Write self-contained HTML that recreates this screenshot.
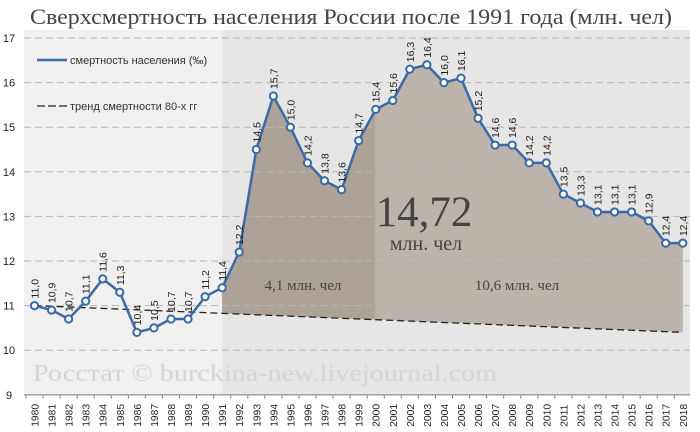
<!DOCTYPE html>
<html><head><meta charset="utf-8"><style>
body{margin:0;background:#fff;}
svg{display:block;font-family:"Liberation Sans",sans-serif;}
</style></head><body>
<svg id="c" width="700" height="432" xmlns="http://www.w3.org/2000/svg"></svg>
<script>
const d=[11.0,10.9,10.7,11.1,11.6,11.3,10.4,10.5,10.7,10.7,11.2,11.4,12.2,14.5,15.7,15.0,14.2,13.8,13.6,14.7,15.4,15.6,16.3,16.4,16.0,16.1,15.2,14.6,14.6,14.2,14.2,13.5,13.3,13.1,13.1,13.1,12.9,12.4,12.4];
const X=i=>34.5+17.06*i, Y=v=>38+(17-v)*44.6, T=i=>11.0-0.6*i/38;
let s='';
s+=`<rect x="24" y="30" width="666" height="365" fill="#f0f0f0"/>`;
s+=`<rect x="${X(11)}" y="30" width="${690-X(11)}" height="365" fill="#e6e6e6"/>`;
function area(a,b,col){let p='';for(let i=a;i<=b;i++)p+=`${X(i)},${Y(d[i])} `;for(let i=b;i>=a;i--)p+=`${X(i)},${Y(T(i))} `;return `<polygon points="${p}" fill="${col}"/>`;}
s+=area(11,20,'#ada297');s+=area(20,38,'#bcb3ab');
for(let v=10;v<=17;v++)s+=`<line x1="24" x2="690" y1="${Y(v)}" y2="${Y(v)}" stroke="#b8b8b8" stroke-dasharray="7,4"/><text x="9" y="${Y(v)+4}" font-size="11" text-anchor="middle" fill="#222">${v}</text>`;
s+=`<text x="9" y="${Y(9)+4}" font-size="11" text-anchor="middle" fill="#222">9</text>`;
s+=`<line x1="24" x2="690" y1="${Y(9)}" y2="${Y(9)}" stroke="#888" stroke-width="1.2"/>`;
for(let i=0;i<=38;i++){const x=X(i);s+=`<line x1="${x-8.5}" x2="${x-8.5}" y1="${Y(9)}" y2="${Y(9)+4}" stroke="#888"/><text transform="translate(${x+4},${Y(9)+32}) rotate(-90)" font-size="10.3" fill="#222">${1980+i}</text>`;}
s+=`<text x="33" y="381" font-family="Liberation Serif,serif" font-size="24" fill="#d5d5d5" textLength="464" lengthAdjust="spacingAndGlyphs">Росстат © burckina-new.livejournal.com</text>`;
s+=`<line x1="${X(0)}" y1="${Y(11)}" x2="${X(38)}" y2="${Y(T(38))}" stroke="#222" stroke-width="1.3" stroke-dasharray="7,4"/>`;
s+=`<polyline points="${d.map((v,i)=>X(i)+','+Y(v)).join(' ')}" fill="none" stroke="#3b6aa5" stroke-width="2.5"/>`;
d.forEach((v,i)=>{s+=`<circle cx="${X(i)}" cy="${Y(v)}" r="3.6" fill="#fff" stroke="#3b6aa5" stroke-width="2"/>`;
s+=`<text transform="translate(${X(i)+4},${Y(v)-7}) rotate(-90)" font-size="10.5" fill="#222">${v.toFixed(1).replace('.',',')}</text>`;});
s+=`<text x="30" y="24" font-family="Liberation Serif,serif" font-size="22" fill="#444" textLength="642" lengthAdjust="spacingAndGlyphs">Сверхсмертность населения России после 1991 года (млн. чел)</text>`;
s+=`<line x1="37" x2="67" y1="60" y2="60" stroke="#3b6aa5" stroke-width="2.5"/><text x="70" y="64" font-size="11" fill="#333">смертность населения (‰)</text>`;
s+=`<line x1="37" x2="67" y1="106" y2="106" stroke="#222" stroke-width="1.3" stroke-dasharray="8,3"/><text x="70" y="110" font-size="11" fill="#333">тренд смертности 80-х гг</text>`;
s+=`<text x="424" y="226" text-anchor="middle" font-family="Liberation Serif,serif" font-size="43" fill="#444">14,72</text>`;
s+=`<text x="426" y="250" text-anchor="middle" font-family="Liberation Serif,serif" font-size="20" fill="#444">млн. чел</text>`;
s+=`<text x="303" y="290" text-anchor="middle" font-family="Liberation Serif,serif" font-size="15" fill="#444">4,1 млн. чел</text>`;
s+=`<text x="517" y="290" text-anchor="middle" font-family="Liberation Serif,serif" font-size="15" fill="#444">10,6 млн. чел</text>`;
document.getElementById('c').innerHTML=s;
</script>
</body></html>
